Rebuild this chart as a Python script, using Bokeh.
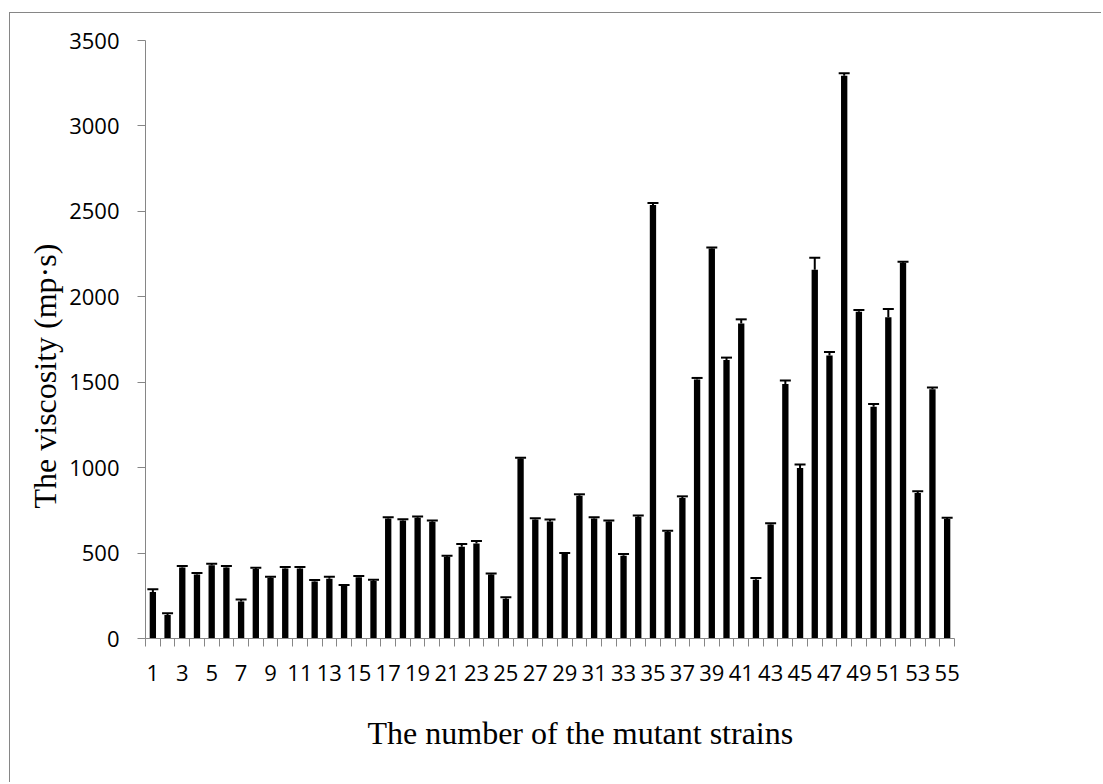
from bokeh.plotting import figure
from bokeh.models import (ColumnDataSource, Range1d, FixedTicker, Whisker, TeeHead, Title)
from bokeh.embed import file_html
from bokeh.resources import INLINE

strains = list(range(1, 56))
viscosity = [272, 138, 416, 375, 428, 416, 216, 407, 356, 409,
             409, 333, 350, 307, 358, 337, 702, 691, 706, 683,
             479, 537, 556, 375, 233, 1053, 696, 685, 496, 835,
             702, 685, 484, 712, 2537, 624, 822, 1516, 2282, 1630,
             1844, 344, 667, 1490, 998, 2158, 1656, 3294, 1912, 1356,
             1880, 2199, 852, 1459, 700]
errors = [16, 10, 8, 8, 10, 8, 12, 7, 6, 9,
          9, 9, 12, 6, 8, 7, 8, 7, 8, 8,
          5, 16, 14, 6, 8, 5, 8, 12, 4, 9,
          8, 6, 10, 8, 12, 6, 10, 9, 6, 14,
          24, 10, 8, 20, 21, 70, 21, 14, 10, 16,
          48, 6, 10, 10, 6]
y_ticks = [0, 500, 1000, 1500, 2000, 2500, 3000, 3500]
x_label_ticks = strains[::2]

upper = [v + e for v, e in zip(viscosity, errors)]
source = ColumnDataSource(data=dict(x=strains, top=viscosity, upper=upper))

AXIS_GRAY = "#868686"
W, H = 1092, 770

p = figure(width=W, height=H, output_backend="svg", toolbar_location=None,
           x_range=Range1d(0.5, 55.5), y_range=Range1d(0, 3500),
           min_border_left=135, min_border_right=148, min_border_top=27,
           min_border_bottom=145)
p.styles = {"border-left": "1px solid " + AXIS_GRAY, "border-top": "1px solid " + AXIS_GRAY,
            "margin-top": "12px", "margin-left": "9px"}
p.outline_line_color = None
p.xgrid.grid_line_color = None
p.ygrid.grid_line_color = None
p.background_fill_color = "white"
p.border_fill_color = "white"

p.vbar(x="x", top="top", width=0.43, source=source, fill_color="black", line_color=None)

whisk = Whisker(source=source, base="x", lower="top", upper="upper",
                line_color="black", line_width=2,
                upper_head=TeeHead(size=11, line_color="black", line_width=2),
                lower_head=None)
p.add_layout(whisk)

# x axis
xt = FixedTicker(ticks=x_label_ticks, minor_ticks=[s - 0.5 for s in strains] + [55.5])
p.xaxis.ticker = xt
p.xaxis.axis_line_color = AXIS_GRAY
p.xaxis.major_tick_line_color = None
p.xaxis.minor_tick_line_color = AXIS_GRAY
p.xaxis.minor_tick_out = 8
p.xaxis.minor_tick_in = 0
p.xaxis.major_label_text_font = "Open Sans"
p.xaxis.major_label_text_font_size = "22px"
p.xaxis.major_label_text_color = "black"
p.xaxis.major_label_standoff = 18

# y axis
p.yaxis.ticker = FixedTicker(ticks=y_ticks)
p.yaxis.axis_line_color = AXIS_GRAY
p.yaxis.major_tick_line_color = AXIS_GRAY
p.yaxis.major_tick_out = 8
p.yaxis.major_tick_in = 0
p.yaxis.minor_tick_line_color = None
p.yaxis.major_label_text_font = "Open Sans"
p.yaxis.major_label_text_font_size = "22px"
p.yaxis.major_label_text_color = "black"
p.yaxis.major_label_standoff = 18

xtitle = Title(text="The number of the mutant strains", align="left", offset=222,
               vertical_align="middle", standoff=61,
               text_font="Liberation Serif", text_font_size="32px",
               text_font_style="normal", text_color="black")
p.add_layout(xtitle, "below")
ytitle = Title(text="The viscosity (mp·s)", align="left", offset=130,
               vertical_align="middle", standoff=5,
               text_font="Liberation Serif", text_font_size="32px",
               text_font_style="normal", text_color="black")
p.add_layout(ytitle, "left")

open("out.html", "w").write(file_html(p, INLINE))
